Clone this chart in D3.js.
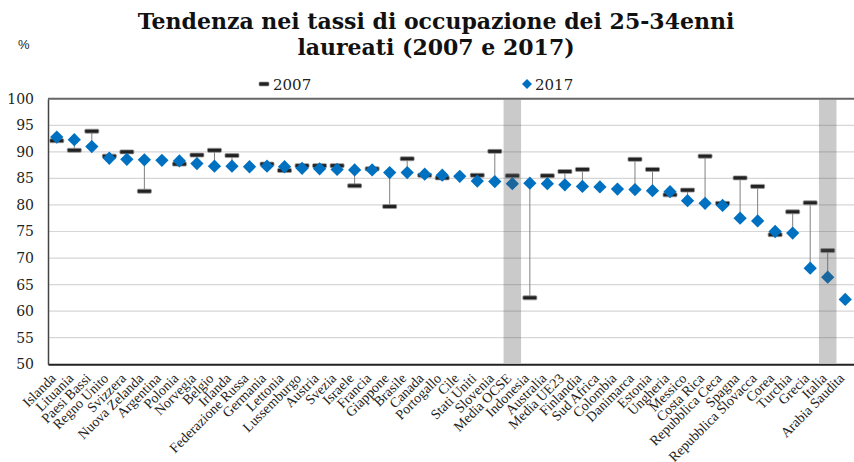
<!DOCTYPE html>
<html><head><meta charset="utf-8">
<script src="https://cdn.jsdelivr.net/npm/d3@7"></script>
<style>body{margin:0;background:#fff}svg{display:block}</style>
</head><body>
<svg id="c" width="854" height="462"></svg>
<script>
const categories = ["Islanda","Lituania","Paesi Bassi","Regno Unito","Svizzera","Nuova Zelanda","Argentina","Polonia","Norvegia","Belgio","Irlanda","Federazione Russa","Germania","Lettonia","Lussemburgo","Austria","Svezia","Israele","Francia","Giappone","Brasile","Canada","Portogallo","Cile","Stati Uniti","Slovenia","Media OCSE","Indonesia","Australia","Media UE23","Finlandia","Sud Africa","Colombia","Danimarca","Estonia","Ungheria","Messico","Costa Rica","Repubblica Ceca","Spagna","Repubblica Slovacca","Corea","Turchia","Grecia","Italia","Arabia Saudita"];
const values2017 = [92.8,92.3,91.0,88.8,88.6,88.5,88.4,88.3,87.8,87.3,87.3,87.2,87.3,87.2,86.9,86.8,86.7,86.6,86.6,86.1,86.1,85.8,85.6,85.4,84.5,84.4,84.0,84.1,84.0,83.8,83.5,83.4,83.0,82.9,82.7,82.5,80.8,80.3,79.9,77.5,77.0,75.0,74.7,68.1,66.4,62.2];
const values2007 = [92.1,90.3,93.9,89.2,90.0,82.6,null,87.7,89.4,90.3,89.3,null,87.7,86.5,87.4,87.4,87.4,83.6,86.8,79.7,88.7,85.6,85.1,null,85.6,90.1,85.5,62.5,85.5,86.3,86.7,null,null,88.6,86.7,81.9,82.8,89.2,80.3,85.1,83.5,74.4,78.7,80.4,71.4,null];
const highlighted = ["Media OCSE","Italia"];
const yTicks = [50,55,60,65,70,75,80,85,90,95,100];
const seriesNames = ["2007","2017"];
const titleLines = ["Tendenza nei tassi di occupazione dei 25-34enni","laureati (2007 e 2017)"];

const svg = d3.select("#c");
const pLeft = 48, pRight = 854, pTop = 98.8, pBottom = 364.2;
const x = d3.scaleBand().domain(categories).range([pLeft, pRight]).padding(0);
const y = d3.scaleLinear().domain([50, 100]).range([pBottom, pTop]);
const blue = "#0070c0";
const serif = "'Liberation Serif', 'Times New Roman', serif";
const wideSerif = "'DejaVu Serif', Georgia, serif";

// title
svg.append("text").attr("text-anchor", "middle")
  .style("font-family", wideSerif).style("font-weight", "bold").style("font-size", "22px").attr("fill", "#111")
  .selectAll("tspan").data(titleLines).join("tspan")
  .attr("x", 436).attr("y", (d, i) => 28.5 + i * 26).text(d => d);

svg.append("text").attr("x", 18).attr("y", 49).text("%")
  .style("font-family", "'Liberation Sans', Arial, sans-serif").style("font-size", "13px").attr("fill", "#222");

// legend
const lg = svg.append("g");
lg.append("rect").attr("x", 259).attr("y", 82).attr("width", 10).attr("height", 4).attr("rx", 1)
  .attr("fill", "#222").attr("stroke", "#999").attr("stroke-width", 0.7);
lg.append("text").attr("x", 273).attr("y", 90).text(seriesNames[0])
  .style("font-family", wideSerif).style("font-size", "15px").attr("fill", "#222");
lg.append("path").attr("d", d3.symbol(d3.symbolSquare, 50)()).attr("transform", "translate(527,84) rotate(45)").attr("fill", blue);
lg.append("text").attr("x", 535).attr("y", 90).text(seriesNames[1])
  .style("font-family", wideSerif).style("font-size", "15px").attr("fill", "#222");

// gridlines
svg.append("g").selectAll("line").data(yTicks.filter(t => t > 50 && t < 100)).join("line")
  .attr("x1", pLeft).attr("x2", pRight).attr("y1", d => y(d)).attr("y2", d => y(d))
  .attr("stroke", "#d6d6d6").attr("stroke-width", 1.2);

// y axis
const yAxis = svg.append("g").attr("transform", `translate(${pLeft},0)`)
  .call(d3.axisLeft(y).tickValues(yTicks).tickSize(0).tickPadding(14));
yAxis.select(".domain").attr("stroke", "#444").attr("stroke-width", 1.5);
yAxis.selectAll("text").style("font-family", wideSerif).style("font-size", "14px").attr("fill", "#222");

// top frame
svg.append("line").attr("x1", pLeft).attr("x2", pRight).attr("y1", y(100)).attr("y2", y(100))
  .attr("stroke", "#666").attr("stroke-width", 2);

// x axis
const xAxis = svg.append("g").attr("transform", `translate(0,${pBottom})`)
  .call(d3.axisBottom(x).tickSize(0).tickPadding(0));
xAxis.select(".domain").attr("stroke", "#222").attr("stroke-width", 2);
xAxis.selectAll("text")
  .style("font-family", serif).style("font-size", "14px").attr("fill", "#222")
  .attr("text-anchor", "end").attr("dy", null).attr("y", 0)
  .attr("transform", "translate(0,15) rotate(-45)");

const data = categories.map((c, i) => ({c, v17: values2017[i], v07: values2007[i]}));
const cx = d => x(d.c) + x.bandwidth() / 2;

// connectors
svg.append("g").selectAll("line").data(data.filter(d => d.v07 != null)).join("line")
  .attr("x1", cx).attr("x2", cx).attr("y1", d => y(d.v07)).attr("y2", d => y(d.v17))
  .attr("stroke", "#808080").attr("stroke-width", 1);

// 2007 markers
svg.append("g").selectAll("rect").data(data.filter(d => d.v07 != null)).join("rect")
  .attr("x", d => cx(d) - 7).attr("y", d => y(d.v07) - 2).attr("width", 14).attr("height", 4).attr("rx", 1)
  .attr("fill", "#222").attr("stroke", "#999").attr("stroke-width", 0.8);

// 2017 diamonds
svg.append("g").selectAll("path").data(data).join("path")
  .attr("d", d3.symbol(d3.symbolSquare, 88)())
  .attr("transform", d => `translate(${cx(d)},${y(d.v17)}) rotate(45)`)
  .attr("fill", blue);

// highlight bands (semi-transparent, on top)
svg.append("g").selectAll("rect").data(highlighted).join("rect")
  .attr("x", d => x(d)).attr("y", y(100) + 1).attr("width", x.bandwidth()).attr("height", pBottom - y(100) - 2)
  .attr("fill", "rgb(83,83,83)").attr("fill-opacity", 0.31);
</script>
</body></html>
